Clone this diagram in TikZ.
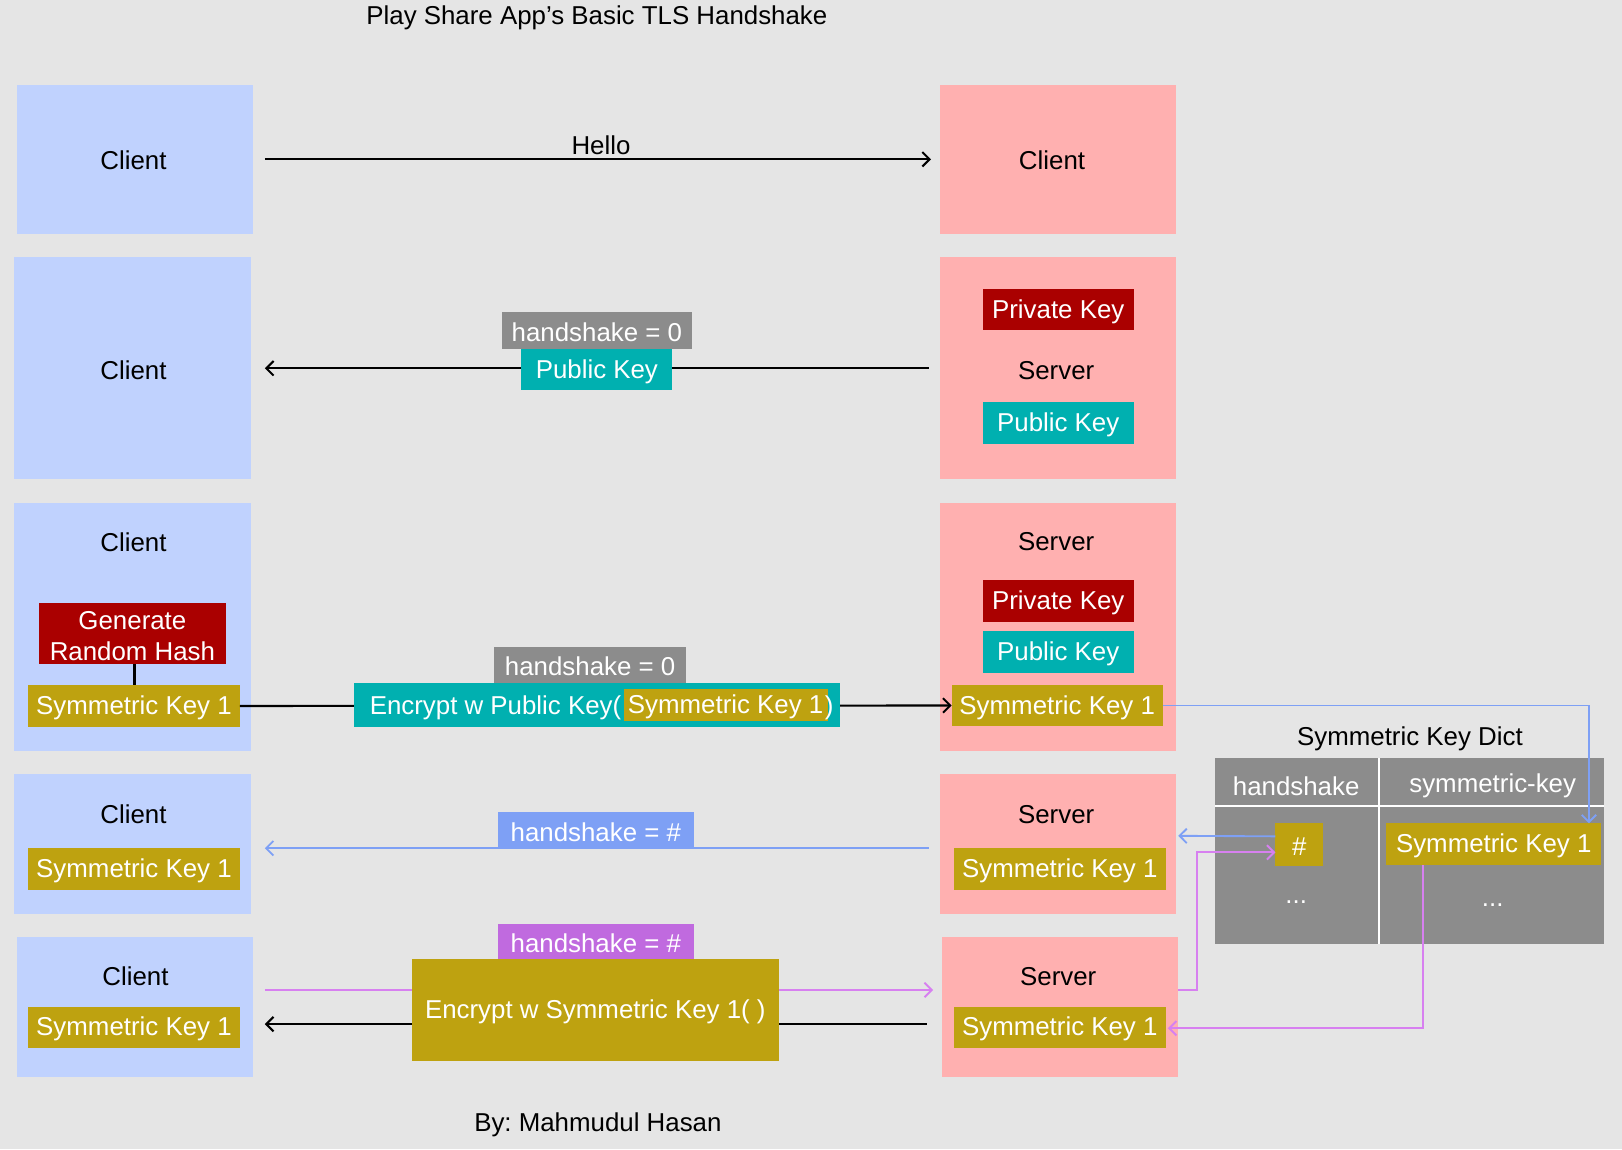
\documentclass[tikz,border=0pt]{standalone}
\usepackage{fontspec}
\setmainfont{Liberation Sans}
\usetikzlibrary{fit,calc,arrows.meta}
\definecolor{bgc}{RGB}{229,229,229}
\definecolor{cblue}{RGB}{192,210,254}
\definecolor{spink}{RGB}{255,176,176}
\definecolor{dred}{RGB}{170,0,0}
\definecolor{teal2}{RGB}{0,176,176}
\definecolor{olive2}{RGB}{190,162,16}
\definecolor{gray2}{RGB}{140,140,140}
\definecolor{blueln}{RGB}{126,160,245}
\definecolor{purbox}{RGB}{192,106,223}
\definecolor{purln}{RGB}{215,128,240}
\frenchspacing
\begin{document}
\begin{tikzpicture}[x=0.5pt,y=-0.5pt,
  font=\fontsize{12.5}{15}\selectfont,
  box/.style={inner sep=0pt, outer sep=0pt},
  wt/.style={label={[inner sep=0pt, yshift=-1pt, text=white, align=center]center:{#1}}},
  cli/.style={box, fill=cblue},
  srv/.style={box, fill=spink},
  redtag/.style={box, fill=dred},
  tealtag/.style={box, fill=teal2},
  olivetag/.style={box, fill=olive2},
  graytag/.style={box, fill=gray2},
  bluetag/.style={box, fill=blueln},
  purtag/.style={box, fill=purbox},
  lbl/.style={inner sep=0pt, yshift=-1pt, text=black},
  tip/.style={-{Straight Barb[length=3.5pt,width=7pt]}},
  conn/.style={line width=1pt, black},
  bconn/.style={line width=0.9pt, blueln},
  pconn/.style={line width=0.9pt, purln}]
\path[fill=bgc, use as bounding box] (0,0) rectangle (1568,1111);

\node[lbl] (title) at (577,15) {Play Share App’s Basic TLS Handshake};
\node[lbl] (author) at (578,1085) {By: Mahmudul Hasan};

% Row 1
\node[cli, fit={(16,82) (245,226)}] (c1) {};
\node[lbl] (c1t) at (129,153) {Client};
\node[srv, fit={(909,82) (1137,226)}] (s1) {};
\node[lbl] (s1t) at (1017,153) {Client};
\draw[conn, tip, shorten <=5.5pt, shorten >=4.5pt] (c1.east) -- (s1.west);
\node[lbl] (hello) at (581,138) {Hello};

% Row 2
\node[cli, fit={(14,248) (243,463)}] (c2) {};
\node[lbl] (c2t) at (129,356) {Client};
\node[srv, fit={(909,248) (1137,463)}] (s2) {};
\node[redtag, fit={(950,279) (1096,319)}, wt={Private Key}] (s2pk) {};
\node[lbl] (s2t) at (1021,356) {Server};
\node[tealtag, fit={(950,389) (1096,429)}, wt={Public Key}] (s2pub) {};
\draw[conn, tip, shorten <=5.5pt, shorten >=6.5pt] ($(s2.west)+(0,0.5)$) -- ($(c2.east)+(0,0.5)$);
\node[graytag, fit={(485,302) (669,337)}, wt={handshake = 0}] (hs0a) {};
\node[tealtag, fit={(504,337) (650,377)}, wt={Public Key}] (pubmsg) {};

% Row 3
\node[cli, fit={(14,486) (243,726)}] (c3) {};
\node[lbl] (c3t) at (129,522) {Client};
\node[redtag, fit={(38,583) (218,642)}, wt={Generate\\Random Hash}] (gen) {};
\node[olivetag, fit={(27,662) (232,703)}, wt={Symmetric Key 1}] (c3sk) {};
\draw[conn] ($(gen.south)+(2,0)$) -- ($(gen.south |- c3sk.north)+(2,0)$);
\node[srv, fit={(909,486) (1137,726)}] (s3) {};
\node[lbl] (s3t) at (1021,522) {Server};
\node[redtag, fit={(950,561) (1096,601)}, wt={Private Key}] (s3pk) {};
\node[tealtag, fit={(950,610) (1096,651)}, wt={Public Key}] (s3pub) {};
\node[olivetag, fit={(920,662) (1124,702)}, wt={Symmetric Key 1}] (s3sk) {};
\draw[conn, tip] (c3sk.east) -- (s3sk.west);
\node[graytag, fit={(478,625) (663,660)}, wt={handshake = 0}] (hs0b) {};
\node[tealtag, fit={(342,660) (812,703)}] (enc) {};
\node[olivetag, fit={(603,666) (800,697)}, wt={Symmetric Key 1}] (encsk) {};
\node[lbl, text=white, anchor=east] (enct) at (601,682) {Encrypt w Public Key(};
\node[lbl, text=white, anchor=west] (encp) at (797,682) {)};

% Dict
\node[lbl] (dtitle) at (1363,712) {Symmetric Key Dict};
\node[box, fill=gray2, fit={(1175,733) (1551,913)}] (dict) {};
\draw[white, line width=1pt] (dict.west |- 0,779) -- (dict.east |- 0,779);
\draw[white, line width=1pt] (1333,0 |- dict.north) -- (1333,0 |- dict.south);
\node[lbl, text=white] (dh1) at (1253,758) {handshake};
\node[lbl, text=white] (dh2) at (1443,758) {symmetric-key};
\node[olivetag, fit={(1233,796) (1279,837)}, wt={\#}] (dhash) {};
\node[lbl, text=white] (dd1) at (1253,870) {...};
\node[olivetag, fit={(1340,796) (1548,836)}, wt={Symmetric Key 1}] (dsk) {};
\node[lbl, text=white] (dd2) at (1443,873) {...};
\draw[bconn, tip] (s3sk.east) -| ($(dsk.north east)+(-12,0)$);

% Row 4
\node[cli, fit={(14,748) (243,884)}] (c4) {};
\node[lbl] (c4t) at (129,785) {Client};
\node[olivetag, fit={(27,820) (232,860)}, wt={Symmetric Key 1}] (c4sk) {};
\node[srv, fit={(909,748) (1137,884)}] (s4) {};
\node[lbl] (s4t) at (1021,785) {Server};
\node[olivetag, fit={(922,820) (1127,860)}, wt={Symmetric Key 1}] (s4sk) {};
\draw[bconn, tip, shorten <=5.5pt, shorten >=6.5pt] (s4.west |- s4sk.north) -- (c4.east |- s4sk.north);
\node[bluetag, fit={(481,785) (671,820)}, wt={handshake = \#}] (hsb) {};
\draw[bconn, tip] ($(dhash.west)+(0,-8)$) -- ($(s4.east)+(2,-8)$);

% Row 5
\node[cli, fit={(16,906) (245,1041)}] (c5) {};
\node[lbl] (c5t) at (131,942) {Client};
\node[olivetag, fit={(27,973) (232,1013)}, wt={Symmetric Key 1}] (c5sk) {};
\node[srv, fit={(911,906) (1139,1041)}] (s5) {};
\node[lbl] (s5t) at (1023,942) {Server};
\node[olivetag, fit={(922,973) (1127,1013)}, wt={Symmetric Key 1}] (s5sk) {};
\draw[pconn, tip] ($(c5.east)+(11,-16.5)$) -- ($(s5.west)+(-9,-16.5)$);
\draw[conn, tip] ($(s5.west)+(-15,16.5)$) -- ($(c5.east)+(11,16.5)$);
\node[purtag, fit={(481,893) (671,927)}, wt={handshake = \#}] (hsp) {};
\node[olivetag, fit={(398,927) (753,1026)}, wt={Encrypt w Symmetric Key 1( )}] (encs) {};
\draw[pconn, tip] ($(s5.east)+(0,-16.5)$) -- ++(18,0) |- ($(dhash.west)+(0,7.5)$);
\draw[pconn, tip] ($(dsk.south west)+(36,0)$) |- ($(s5sk.east)+(2,1)$);
\end{tikzpicture}
\end{document}
